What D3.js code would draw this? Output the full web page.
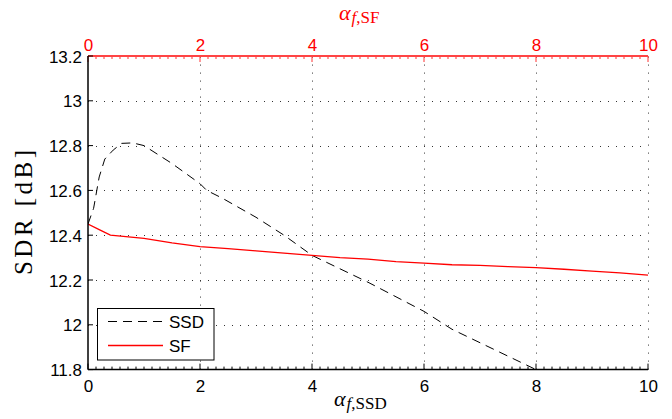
<!DOCTYPE html>
<html><head><meta charset="utf-8">
<script src="https://cdn.jsdelivr.net/npm/d3@7"></script>
<style>
body{margin:0;background:#fff;}
svg{display:block;}
</style></head>
<body>
<svg id="chart" width="672" height="419"></svg>
<script>
// ---- data ----
const ssdX = [0, 0.1, 0.2, 0.3, 0.45, 0.6, 0.8, 1.0, 1.5, 2.0, 2.12, 2.4, 3.0, 3.5, 4.0, 4.5, 5.0, 5.5, 6.0, 6.5, 7.0, 7.5, 8.0];
const ssdY = [12.45, 12.52, 12.66, 12.74, 12.78, 12.81, 12.812, 12.80, 12.72, 12.63, 12.60, 12.565, 12.48, 12.40, 12.31, 12.25, 12.19, 12.125, 12.06, 11.98, 11.92, 11.86, 11.80];
const sfX = [0, 0.2, 0.4, 1.0, 1.5, 2.0, 2.5, 3.0, 3.5, 4.0, 4.5, 5.0, 5.5, 6.0, 6.5, 7.0, 7.5, 8.0, 8.5, 9.0, 9.5, 10];
const sfY = [12.45, 12.425, 12.40, 12.386, 12.366, 12.349, 12.34, 12.33, 12.32, 12.31, 12.30, 12.293, 12.282, 12.275, 12.268, 12.265, 12.26, 12.255, 12.248, 12.24, 12.232, 12.222];
const xTicks = [0, 2, 4, 6, 8, 10];
const yTicks = [11.8, 12, 12.2, 12.4, 12.6, 12.8, 13, 13.2];
const yTickLabels = ["11.8", "12", "12.2", "12.4", "12.6", "12.8", "13", "13.2"];
const seriesNames = ["SSD", "SF"];

// ---- layout ----
const L = 88, R = 648, T = 56, B = 369.6;
const svg = d3.select("#chart");
const x = d3.scaleLinear().domain([0, 10]).range([L, R]);
const xTop = d3.scaleLinear().domain([0, 10]).range([L, R]);
const y = d3.scaleLinear().domain([11.8, 13.2]).range([B, T]);

svg.append("defs").append("clipPath").attr("id", "clip")
  .append("rect").attr("x", L).attr("y", T).attr("width", R - L).attr("height", B - T);

// grid
const grid = svg.append("g").attr("stroke", "#333").attr("stroke-width", 1).attr("stroke-dasharray", "1,7");
grid.selectAll("line.v").data(xTicks.filter(d => d > 0)).join("line")
  .attr("x1", d => Math.round(x(d)) + 0.5).attr("x2", d => Math.round(x(d)) + 0.5)
  .attr("y1", B).attr("y2", T);
grid.selectAll("line.h").data(yTicks.filter(d => d > 11.8 && d < 13.2)).join("line")
  .attr("y1", d => Math.round(y(d)) + 0.5).attr("y2", d => Math.round(y(d)) + 0.5)
  .attr("x1", L).attr("x2", R);

// lines
const plot = svg.append("g").attr("clip-path", "url(#clip)");
const ssd = ssdX.map((v, i) => [v, ssdY[i]]);
const sf = sfX.map((v, i) => [v, sfY[i]]);
plot.append("path").datum(ssd)
  .attr("d", d3.line().x(d => x(d[0])).y(d => y(d[1])))
  .attr("fill", "none").attr("stroke", "#000").attr("stroke-width", 1)
  .attr("stroke-dasharray", "9,6");
plot.append("path").datum(sf)
  .attr("d", d3.line().x(d => xTop(d[0])).y(d => y(d[1])))
  .attr("fill", "none").attr("stroke", "#ff0000").attr("stroke-width", 1.3);

// minor ticks
const minor = d3.range(0, 71).map(i => i / 7).filter(v => !xTicks.some(t => Math.abs(t - v) < 1e-6));

// bottom axis
const bottomAx = svg.append("g").attr("transform", `translate(0,${B})`)
  .call(d3.axisBottom(x).tickValues(xTicks).tickSize(0).tickPadding(0).tickFormat(d3.format("d")));
bottomAx.select(".domain").remove();
bottomAx.selectAll("text").attr("dy", null).attr("y", 22.5)
  .attr("font-family", "Liberation Sans, Arial, sans-serif").attr("font-size", 17).attr("fill", "#000");
svg.append("g").selectAll("line").data(minor).join("line")
  .attr("x1", d => x(d)).attr("x2", d => x(d)).attr("y1", B).attr("y2", B - 3)
  .attr("stroke", "#000").attr("stroke-width", 1);
svg.append("g").selectAll("line").data(xTicks).join("line")
  .attr("x1", d => x(d)).attr("x2", d => x(d)).attr("y1", B).attr("y2", B - 6)
  .attr("stroke", "#000").attr("stroke-width", 1);
svg.append("line").attr("x1", L).attr("x2", R).attr("y1", B).attr("y2", B)
  .attr("stroke", "#000").attr("stroke-width", 1.5);

// top axis (red)
const topAx = svg.append("g").attr("transform", `translate(0,${T})`)
  .call(d3.axisTop(xTop).tickValues(xTicks).tickSize(0).tickPadding(0).tickFormat(d3.format("d")));
topAx.select(".domain").remove();
topAx.selectAll("text").attr("y", -5)
  .attr("font-family", "Liberation Sans, Arial, sans-serif").attr("font-size", 17).attr("fill", "#ff0000");
svg.append("g").selectAll("line").data(minor).join("line")
  .attr("x1", d => xTop(d)).attr("x2", d => xTop(d)).attr("y1", T).attr("y2", T + 3)
  .attr("stroke", "#ff3333").attr("stroke-width", 1);
svg.append("g").selectAll("line").data(xTicks).join("line")
  .attr("x1", d => xTop(d)).attr("x2", d => xTop(d)).attr("y1", T).attr("y2", T + 6)
  .attr("stroke", "#ff3333").attr("stroke-width", 1);
svg.append("line").attr("x1", L).attr("x2", R).attr("y1", T).attr("y2", T)
  .attr("stroke", "#ff4444").attr("stroke-width", 1.8);

// left axis
const leftAx = svg.append("g").attr("transform", `translate(${L},0)`)
  .call(d3.axisLeft(y).tickValues(yTicks).tickSize(0).tickPadding(6).tickFormat((d, i) => yTickLabels[i]));
leftAx.select(".domain").remove();
leftAx.selectAll("text").attr("dy", "0.36em")
  .attr("font-family", "Liberation Sans, Arial, sans-serif").attr("font-size", 17).attr("fill", "#000");
svg.append("g").selectAll("line").data(yTicks).join("line")
  .attr("x1", L).attr("x2", L + 5).attr("y1", d => y(d)).attr("y2", d => y(d))
  .attr("stroke", "#000").attr("stroke-width", 1);
svg.append("line").attr("x1", L).attr("x2", L).attr("y1", T).attr("y2", B)
  .attr("stroke", "#000").attr("stroke-width", 1.5);

// axis titles
function alphaLabel(xp, yp, sub1, sub2, color) {
  const t = svg.append("text").attr("x", xp).attr("y", yp).attr("fill", color)
    .attr("font-family", "Liberation Serif, Times New Roman, serif");
  t.append("tspan").attr("font-style", "italic").attr("font-size", 22).text("α");
  t.append("tspan").attr("font-style", "italic").attr("font-size", 17).attr("dy", 3).attr("dx", 1).text(sub1);
  t.append("tspan").attr("font-size", 17).text(sub2);
}
alphaLabel(334, 406, "f", ",SSD", "#000");
alphaLabel(339, 20, "f", ",SF", "#ff0000");

svg.append("text")
  .attr("transform", "translate(32,212.5) rotate(-90)")
  .attr("text-anchor", "middle")
  .attr("font-family", "Liberation Serif, Times New Roman, serif")
  .attr("font-size", 25).attr("fill", "#000")
  .attr("textLength", 125).attr("lengthAdjust", "spacing")
  .text("SDR [dB]");

// legend
const lg = svg.append("g");
lg.append("rect").attr("x", 97.5).attr("y", 308.5).attr("width", 116.5).attr("height", 51.5)
  .attr("fill", "#fff").attr("stroke", "#000").attr("stroke-width", 1);
const lgStyles = [{c: "#000", dash: "9,6", w: 1}, {c: "#ff0000", dash: null, w: 1.3}];
seriesNames.forEach((name, i) => {
  const yy = 321.5 + i * 24;
  lg.append("line").attr("x1", 108).attr("x2", 163).attr("y1", yy).attr("y2", yy)
    .attr("stroke", lgStyles[i].c).attr("stroke-width", lgStyles[i].w)
    .attr("stroke-dasharray", lgStyles[i].dash);
  lg.append("text").attr("x", 169).attr("y", yy).attr("dy", "0.36em")
    .attr("font-family", "Liberation Sans, Arial, sans-serif").attr("font-size", 17)
    .attr("fill", "#000").text(name);
});
</script>
</body></html>
